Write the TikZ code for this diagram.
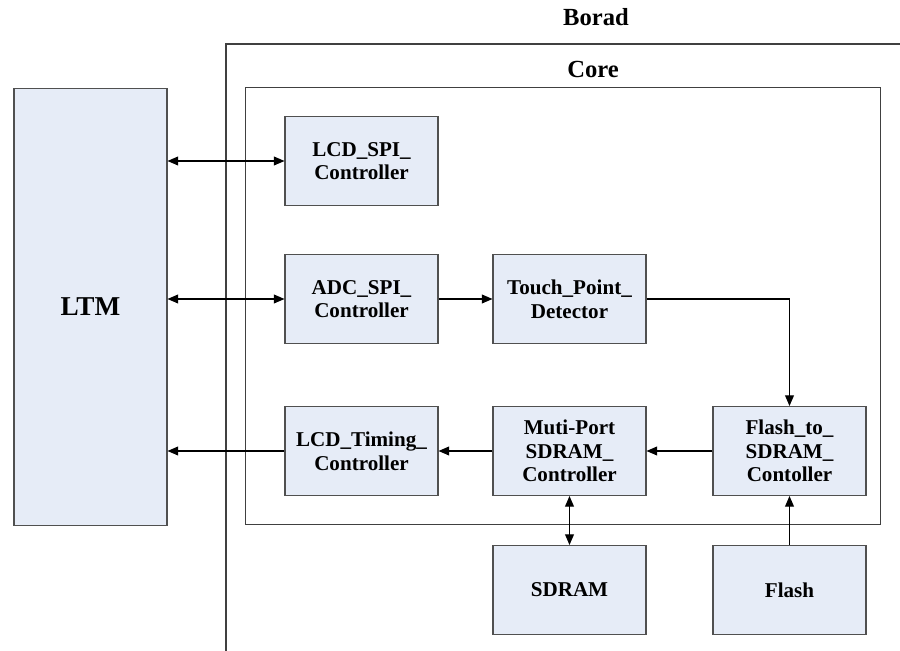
\documentclass[tikz,border=0pt]{standalone}
\usepackage{fontspec}
\setmainfont{Liberation Serif}
\usetikzlibrary{arrows.meta, positioning}
\definecolor{blockfill}{RGB}{230,236,247}
\definecolor{blockdraw}{RGB}{80,80,80}
\tikzset{
	block/.style = {
		draw = blockdraw,
		fill = blockfill,
		line width = 0.6pt,
		minimum width = 3.06cm,
		minimum height = 1.78cm,
		inner sep = 1pt,
		align = center,
		font = \fontsize{12}{13.5}\selectfont\bfseries,
	},
	frame/.style = {
		draw = black!75,
		line width = 0.6pt,
	},
	title/.style = {
		font = \fontsize{14}{16}\selectfont\bfseries,
	},
	link/.style = {
		line width = 0.6pt,
		-{Triangle[length = 6pt, width = 5pt]},
	},
	dual link/.style = {
		link,
		{Triangle[length = 6pt, width = 5pt]}-{Triangle[length = 6pt, width = 5pt]},
	},
}
\begin{document}
\begin{tikzpicture}[x = 0.02cm, y = -0.02cm]
	\useasboundingbox (0, 0) rectangle (900, 651);

	% board and core
	\draw[frame] (900, 44) -- (226, 44) -- (226, 651);
	\node[title] (board label) at (596, 17) {Borad};
	\node[frame, minimum width = 12.72cm, minimum height = 8.76cm, inner sep = 0] (core) at (563, 306) {};
	\node[title] (core label) at (593, 69) {Core};

	\node[block, minimum height = 8.76cm, font = \fontsize{15.5}{18}\selectfont\bfseries] (ltm) at (90.5, 307) {LTM};

	\node[block] (lcd spi) at (361.5, 161) {LCD\_SPI\_\\Controller};
	\node[block] (adc spi) at (361.5, 299) {ADC\_SPI\_\\Controller};
	\node[block] (touch) at (569.5, 299) {Touch\_Point\_\\Detector};
	\node[block] (lcd timing) at (361.5, 451) {LCD\_Timing\_\\Controller};
	\node[block] (multiport) at (569.5, 451) {Muti-Port\\SDRAM\_\\Controller};
	\node[block] (flash ctrl) at (789.5, 451) {Flash\_to\_\\SDRAM\_\\Contoller};
	\node[block] (sdram) at (569.5, 590) {SDRAM};
	\node[block] (flash) at (789.5, 590) {Flash};

	\draw[dual link] (ltm.east |- lcd spi) -- (lcd spi.west);
	\draw[dual link] (ltm.east |- adc spi) -- (adc spi.west);
	\draw[link] (lcd timing.west) -- (ltm.east |- lcd timing);
	\draw[link] (adc spi.east) -- (touch.west);
	\draw[link] (touch.east) -| (flash ctrl.north);
	\draw[link] (flash ctrl.west) -- (multiport.east);
	\draw[link] (multiport.west) -- (lcd timing.east);
	\draw[dual link] (multiport.south) -- (sdram.north);
	\draw[link] (flash.north) -- (flash ctrl.south);
\end{tikzpicture}
\end{document}
